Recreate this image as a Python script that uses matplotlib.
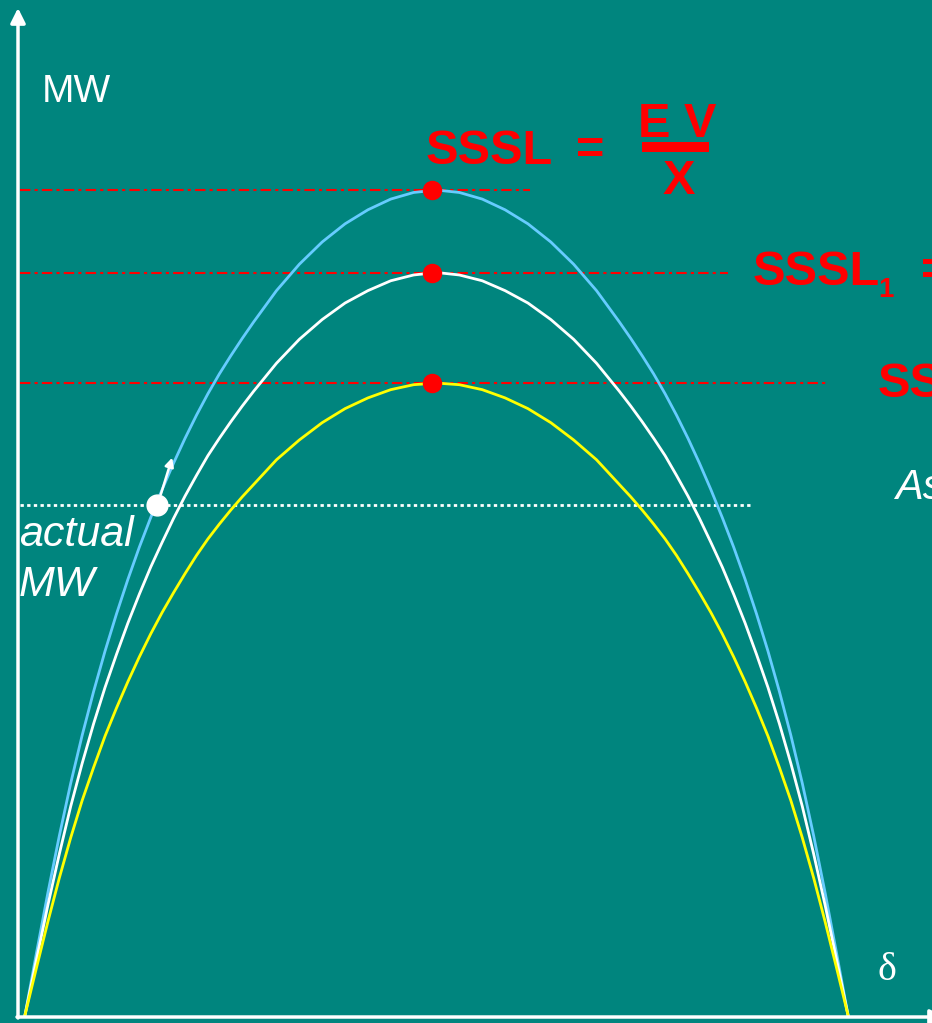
import matplotlib.pyplot as plt
from matplotlib.patches import Rectangle

plt.rcParams['font.family'] = ['Liberation Sans', 'DejaVu Sans']

# power-angle curves (delta in degrees, MW in % of the top curve's peak)
delta = [0, 2.5, 5, 7.5, 10, 12.5, 15, 17.5, 20, 22.5, 25, 27.5, 30, 32.5, 35, 37.5, 40, 42.5, 45, 47.5, 50,
         55, 60, 65, 70, 75, 80, 85, 90, 95, 100, 105, 110, 115, 120, 125,
         130, 132.5, 135, 137.5, 140, 142.5, 145, 147.5, 150, 152.5, 155, 157.5, 160, 162.5, 165, 167.5,
         170, 172.5, 175, 177.5, 180]

blue_mw = [0, 7.5, 14.8, 21.7, 28.1, 33.9, 39.2, 44.1, 48.6, 52.8, 56.7, 60.3, 63.7, 66.9, 69.9, 72.7, 75.3,
           77.7, 79.9, 82.0, 84.0, 87.8, 91.0, 93.7, 95.9, 97.6, 98.9, 99.7, 100,
           99.7, 98.9, 97.6, 95.9, 93.7, 91.0, 87.8, 84.0, 82.0, 79.9, 77.7, 75.3, 72.7, 69.9, 66.9, 63.7,
           60.3, 56.7, 52.8, 48.6, 44.1, 39.2, 33.9, 28.1, 21.7, 14.8, 7.5, 0]

white_mw = [0, 6.7, 13.3, 19.5, 25.3, 30.5, 35.3, 39.7, 43.7, 47.5, 51.0, 54.3, 57.3, 60.2, 62.9, 65.4, 67.8,
            69.9, 71.9, 73.8, 75.6, 79.0, 81.9, 84.3, 86.3, 87.8, 89.0, 89.7, 90,
            89.7, 89.0, 87.8, 86.3, 84.3, 81.9, 79.0, 75.6, 73.8, 71.9, 69.9, 67.8, 65.4, 62.9, 60.2, 57.3,
            54.3, 51.0, 47.5, 43.7, 39.7, 35.3, 30.5, 25.3, 19.5, 13.3, 6.7, 0]

yellow_mw = [0, 5.7, 11.3, 16.6, 21.5, 26.0, 30.0, 33.8, 37.2, 40.4, 43.4, 46.2, 48.8, 51.2, 53.5, 55.7, 57.7,
             59.5, 61.2, 62.8, 64.3, 67.3, 69.7, 71.8, 73.5, 74.8, 75.8, 76.4, 76.6,
             76.4, 75.8, 74.8, 73.5, 71.8, 69.7, 67.3, 64.3, 62.8, 61.2, 59.5, 57.7, 55.7, 53.5, 51.2, 48.8,
             46.2, 43.4, 40.4, 37.2, 33.8, 30.0, 26.0, 21.5, 16.6, 11.3, 5.7, 0]

actual_mw = 61.8
actual_delta = 28.9
peak_delta = 89

bg = '#00857e'
red = '#ff0000'


# pixel position -> data coords (used only for placing labels)
def fx(p):
    return (p - 25) * 180 / 823


def fy(p):
    return (1015 - p) * 100 / 825


fig = plt.figure(figsize=(9.32, 10.23), dpi=100, facecolor=bg)
ax = fig.add_axes([0, 0, 1, 1])
ax.set_facecolor(bg)
ax.set_xlim(fx(0), fx(932))
ax.set_ylim(fy(1023), fy(0))
ax.axis('off')

# SSSL lines + dots
for mw, xend in [(max(blue_mw), 530), (max(white_mw), 728), (max(yellow_mw), 828)]:
    ax.plot([fx(20), fx(xend)], [mw, mw], color=red, lw=1.5, ls=(0, (5, 2, 1.5, 2)), zorder=2)

ax.plot(delta, blue_mw, color='#66ccff', lw=2, zorder=3)
ax.plot(delta, white_mw, color='white', lw=2, zorder=3)
ax.plot(delta, yellow_mw, color='#ffff00', lw=2, zorder=3)

for mw in [max(blue_mw), max(white_mw), max(yellow_mw)]:
    ax.plot(peak_delta, mw, 'o', color=red, ms=13, mec=red, zorder=5)

# actual MW line and operating point
ax.plot([fx(20), fx(752)], [actual_mw, actual_mw], color='white', lw=2, ls=(0, (1.2, 1.2)), zorder=2)
ax.plot(actual_delta, actual_mw, 'o', color='white', ms=15, zorder=6)
ax.annotate('', xy=(fx(173), fy(455)), xytext=(fx(160), fy(497)),
            arrowprops=dict(arrowstyle='-|>', color='white', lw=1.8, mutation_scale=13), zorder=6)

# axes arrows
ax.annotate('', xy=(fx(18), fy(8)), xytext=(fx(18), fy(1018)), annotation_clip=False,
            arrowprops=dict(arrowstyle='-|>', color='white', lw=2.5, mutation_scale=22, shrinkA=0, shrinkB=0))
ax.annotate('', xy=(fx(945), fy(1017)), xytext=(fx(17), fy(1017)), annotation_clip=False,
            arrowprops=dict(arrowstyle='-|>', color='white', lw=2.5, mutation_scale=22, shrinkA=0, shrinkB=0))

# labels
ax.text(fx(42), fy(102), 'MW', color='white', fontsize=28, va='baseline')
ax.text(fx(878), fy(980), 'δ', color='white', fontsize=29, va='baseline', family=['Liberation Serif', 'DejaVu Serif'])
ax.text(fx(19), fy(546), 'actual', color='white', fontsize=31, style='italic', va='baseline')
ax.text(fx(19), fy(596), 'MW', color='white', fontsize=31, style='italic', va='baseline')
ax.text(fx(895), fy(499), 'As', color='white', fontsize=30, style='italic', va='baseline')

ax.text(fx(426), fy(164), 'SSSL', color=red, fontsize=35, weight='bold', va='baseline')
ax.text(fx(576), fy(164), '=', color=red, fontsize=35, weight='bold', va='baseline')
ax.text(fx(638), fy(137), 'E V', color=red, fontsize=35, weight='bold', va='baseline')
ax.add_patch(Rectangle((fx(642), fy(152)), fx(709) - fx(642), fy(142) - fy(152), color=red, lw=0))
ax.text(fx(663), fy(194), 'X', color=red, fontsize=35, weight='bold', va='baseline')

ax.text(fx(753), fy(285), 'SSSL', color=red, fontsize=35, weight='bold', va='baseline')
ax.text(fx(878), fy(297), '1', color=red, fontsize=20, weight='bold', va='baseline')
ax.text(fx(921), fy(285), '=', color=red, fontsize=35, weight='bold', va='baseline')
ax.text(fx(878), fy(397), 'SSSL', color=red, fontsize=35, weight='bold', va='baseline')

fig.savefig('out.png', dpi=100, facecolor=bg)
